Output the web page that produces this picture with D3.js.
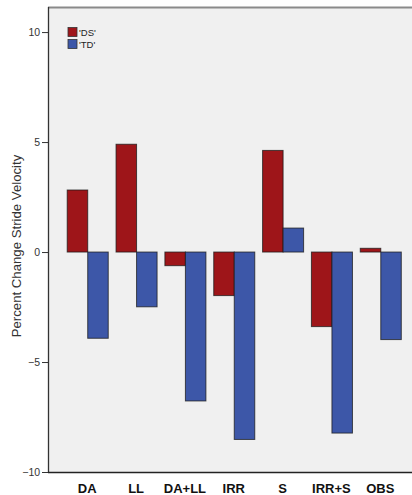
<!DOCTYPE html>
<html><head><meta charset="utf-8">
<script src="https://cdn.jsdelivr.net/npm/d3@7"></script>
<style>body{margin:0;background:#fff}svg{display:block}</style>
</head><body><div id="chart"></div>
<script>
const categories = ["DA","LL","DA+LL","IRR","S","IRR+S","OBS"];
const seriesNames = ["'DS'","'TD'"];
const dsValues = [2.82, 4.9, -0.62, -1.98, 4.62, -3.39, 0.17];
const tdValues = [-3.92, -2.49, -6.77, -8.52, 1.09, -8.23, -3.98];
const yTicks = [-10, -5, 0, 5, 10];
const colors = ["#9E1519", "#3D57A8"];

const W = 412, H = 495;
const plot = {left: 48, top: 7, right: 412, bottom: 472};
const svg = d3.select("#chart").append("svg").attr("width", W).attr("height", H);

const y = d3.scaleLinear().domain([-10, 11.14]).range([plot.bottom, plot.top]);
const x = d3.scaleBand().domain(categories).range([62.8, 404.7]).paddingInner(0.16).paddingOuter(0.08);
const xs = d3.scaleBand().domain(seriesNames).range([0, x.bandwidth()]);

svg.append("rect").attr("x", plot.left).attr("y", plot.top)
  .attr("width", plot.right - plot.left).attr("height", plot.bottom - plot.top).attr("fill", "#F0F0F0");
svg.append("line").attr("x1", plot.left).attr("x2", plot.right).attr("y1", plot.top + 0.5).attr("y2", plot.top + 0.5)
  .attr("stroke", "#8a8a8a").attr("stroke-width", 2);

const data = categories.map((c, i) => ({cat: c, vals: [dsValues[i], tdValues[i]]}));
const g = svg.append("g");
data.forEach(d => {
  d.vals.forEach((v, j) => {
    const y0 = y(0), y1 = y(v);
    g.append("rect")
      .attr("x", x(d.cat) + xs(seriesNames[j]) + 0.5)
      .attr("y", Math.min(y0, y1))
      .attr("width", xs.bandwidth())
      .attr("height", Math.abs(y1 - y0))
      .attr("fill", colors[j])
      .attr("stroke", "#1a1a1a").attr("stroke-opacity", 0.75).attr("stroke-width", 1);
  });
});

// axes
const yAxis = d3.axisLeft(y).tickValues(yTicks).tickSize(6).tickSizeOuter(0).tickFormat(d3.format("d"));
const ya = svg.append("g").attr("transform", `translate(${plot.left},0)`).call(yAxis);
ya.select(".domain").remove();
ya.selectAll("line").attr("stroke", "#333");
ya.selectAll("text").attr("font-family", "Liberation Sans, Arial, sans-serif").attr("font-size", 10.5).attr("fill", "#333").attr("dx", "0.1em");
svg.append("line").attr("x1", plot.left + 0.5).attr("x2", plot.left + 0.5).attr("y1", plot.top).attr("y2", plot.bottom)
  .attr("stroke", "#333").attr("stroke-width", 1.3);
svg.append("line").attr("x1", plot.left).attr("x2", plot.right).attr("y1", plot.bottom + 0.5).attr("y2", plot.bottom + 0.5)
  .attr("stroke", "#222").attr("stroke-width", 1.3);

const xAxis = d3.axisBottom(x).tickSize(0);
const xa = svg.append("g").attr("transform", `translate(0,${plot.bottom})`).call(xAxis);
xa.select(".domain").remove();
xa.selectAll("text").attr("font-family", "Liberation Sans, Arial, sans-serif").attr("font-size", 13)
  .attr("font-weight", "bold").attr("fill", "#111").attr("dy", "0").attr("y", 20.5);

svg.append("text").attr("transform", `translate(20.5,246) rotate(-90)`)
  .attr("text-anchor", "middle").attr("font-family", "Liberation Sans, Arial, sans-serif").attr("font-size", 13.2)
  .attr("fill", "#333").text("Percent Change Stride Velocity");

// legend
const lg = svg.append("g");
seriesNames.forEach((s, i) => {
  lg.append("rect").attr("x", 68).attr("y", 27.5 + i * 12).attr("width", 9).attr("height", 9)
    .attr("fill", colors[i]).attr("stroke", "#333").attr("stroke-width", 0.8);
  lg.append("text").attr("x", 79).attr("y", 35.5 + i * 12).attr("font-family", "Liberation Sans, Arial, sans-serif")
    .attr("font-size", 9.5).attr("fill", "#222").text(s);
});
</script></body></html>
